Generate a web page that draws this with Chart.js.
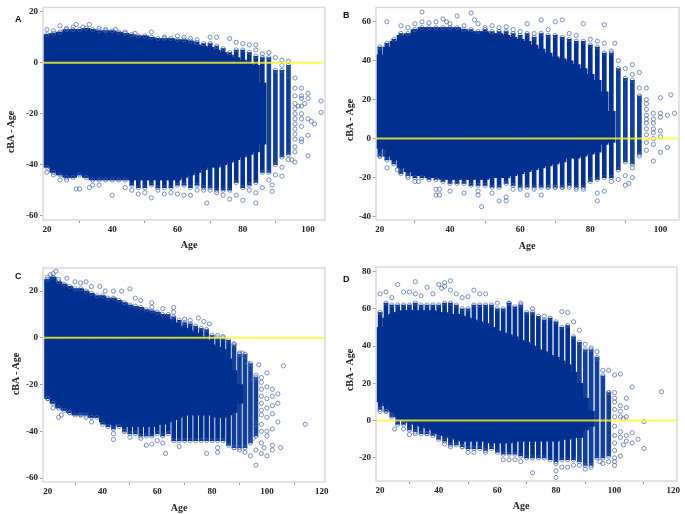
<!DOCTYPE html>
<html>
<head>
<meta charset="utf-8">
<script src="https://cdn.jsdelivr.net/npm/chart.js@4"></script>
<style>
    html, body { margin: 0; padding: 0; background: #fff; width: 685px; height: 514px; overflow: hidden; }
    canvas { position: absolute; filter: blur(0.4px); }
    .tag { position: absolute; font: bold 9px "Liberation Sans", sans-serif; color: #111; }
    .axis { position: absolute; font: bold 10px "Liberation Serif", serif; color: #222; white-space: nowrap; transform: translate(-50%, -50%); }
    .axis.rot { transform: translate(-50%, -50%) rotate(-90deg); }
</style>
</head>
<body>
<canvas id="chart-a" style="left:0;top:0"></canvas>
<canvas id="chart-b" style="left:340px;top:0"></canvas>
<canvas id="chart-c" style="left:0;top:255px"></canvas>
<canvas id="chart-d" style="left:340px;top:255px"></canvas>
<div class="tag" style="left:15px;top:14px">A</div>
<div class="tag" style="left:343px;top:10px">B</div>
<div class="tag" style="left:15px;top:271px">C</div>
<div class="tag" style="left:343px;top:274px">D</div>
<div class="axis rot" style="left:10px;top:132px">cBA - Age</div>
<div class="axis rot" style="left:349px;top:120px">cBA - Age</div>
<div class="axis rot" style="left:15px;top:374px">cBA - Age</div>
<div class="axis rot" style="left:349px;top:370px">cBA - Age</div>
<div class="axis" style="left:189px;top:244px">Age</div>
<div class="axis" style="left:527px;top:245px">Age</div>
<div class="axis" style="left:179px;top:507px">Age</div>
<div class="axis" style="left:521px;top:505px">Age</div>
<script>
// Alter, gerade Jahre - die Spalten im Bild
const AGES = [20,22,24,26,28,30,32,34,36,38,40,42,44,46,48,50,52,54,56,58,60,62,64,66,68,70,72,74,76,78,80,82,84,86,88,90,92,94,96,98,100,102];

// A - dichter Block (core) und Spaltenspitzen (edge)
const coreTopA = [11,11.5,12,13,13,13,13.5,13,12.5,12.5,12.5,12,11.5,11,10.5,10.5,10,9.5,9.5,9.5,9,9,8.5,7,6.5,6,5,4,3,2,1,0,-1,-8];
const coreLowA = [-41,-43,-44,-45,-45,-44,-45,-46,-46,-46,-46,-46,-46,-46,-46,-46,-46,-46,-46,-46,-46,-45,-44,-43,-42,-41,-41,-40,-39,-38,-37,-36,-35,-32];
const edgeTopA = [11,11.5,12,13,13,13,13.5,13,12.5,12.5,12.5,12,11.5,11,10.5,10.5,10,9.5,9.5,9.5,9,9,8.5,8,7.5,7.5,6.5,5.5,4,5,5,4,2.5,2,2,-3,-3,-1];
const edgeLowA = [-41,-43,-44,-45,-45,-44,-45,-46,-46,-46,-46,-46,-46,-48,-49,-49,-48,-49,-49,-49,-48,-48,-49,-48,-49,-49,-50,-50,-50,-47,-49,-48,-47,-43,-43,-40,-37,-36];
const ringsA = [[24,14.5],[29,15],[33,15],[26,13.5],[20,13],[22,12.5],[28,14],[31,14],[36,13.5],[38,13],[41,13],[44,12],[47,11.5],[52,12],[56,10],[60,10.5],[62,10],[64,9.5],[66,9],[70,10],[72,10],[76,9.5],[78,8],[80,7.5],[82,7],[84,7],[84,5],[86,3.5],[88,4],[90,2],[92,1],[94,0.5],[92,-1],[94,-2],[94,-5],[96,-6],[96,-10],[96,-13],[98,-10],[100,-12],[100,-14],[98,-13],[99,-16],[97,-17],[102,-24],[104,-15],[104,-19.5],[100,-22],[98,-20],[101,-23],[100,-28.5],[98,-30],[98,-31],[100,-36.5],[96,-39],[96,-35],[94,-38],[95,-38],[92,-41],[92,-44.5],[90,-44],[89,-48],[89,-50.5],[88,-46],[84,-55],[84,-51],[80,-54],[76,-53.5],[78,-52],[74,-52],[72,-51],[69,-55],[64,-52],[62,-52],[60,-51.5],[56,-51.5],[52,-53],[48,-51.5],[40,-52],[29,-49.5],[30,-49.5],[33,-49],[36,-48],[34,-48],[26,-46],[24,-46],[22,-44],[20,-43],[44,-49],[46,-50],[50,-51],[54,-50],[58,-51],[66,-50],[68,-50],[70,-50],[86,-49],[82,-50],[96,-16],[96,-18],[96,-20],[96,-22],[96,-24],[96,-26],[96,-28],[96,-30],[96,-33],[98,-14],[98,-17],[98,-22],[98,-25]];

// B
const coreTopB = [43,47,50,53,54,56,57,57,57,57,57,57,56,55,55,55,54,54,53,52,51,50,48,46,44,42,41,40,38,36,33,30,24,14];
const coreLowB = [-5,-9,-11,-15,-17,-19,-19,-20,-20,-21,-21,-21,-21,-21,-21,-21,-20,-20,-20,-19,-18,-17,-16,-15,-14,-13,-12,-10,-10,-9,-8,-7,-3,-2];
const edgeTopB = [47,49,51,54,54,56,57,57,57,57,57,57,56,56,55,56,55,55,55,54,53,54,52,54,53,53,52,51,50,50,48,47,44,44,36,31,30,22];
const edgeLowB = [-9,-11,-13,-18,-19,-20,-20,-21,-21,-22,-23,-23,-23,-24,-24,-24,-25,-25,-23,-24,-25,-25,-25,-25,-25,-25,-25,-24,-25,-25,-22,-21,-20,-20,-16,-12,-13,-8];
const ringsB = [[22,60],[26,58],[28,57],[30,59],[32,60],[32,65],[34,59.5],[36,60],[38,61.5],[39,60],[40,59],[42,63],[44,58],[46,64.5],[47,61],[48,59],[50,57],[52,58],[54,57],[56,57.5],[58,56],[60,55],[62,59],[64,54],[66,61],[68,56],[70,60],[72,61],[74,54],[76,53],[78,59],[80,51],[82,50],[84,58.5],[84,49],[86,45],[87,49],[88,40],[90,36],[92,38],[92,33],[94,26],[94,34],[96,26],[96,20],[96,18],[96,15],[96,12],[96,10],[96,8],[96,5],[96,2],[96,-2],[98,13],[98,10],[98,8],[98,5],[98,3],[98,0],[98,-3],[100,21],[100,13],[100,11],[100,4],[100,1],[102,12],[103,22.5],[104,13],[100,-7],[102,-4.5],[98,-11.5],[96,-6],[94,-9],[92,-20],[92,-15],[90,-24],[91,-23],[90,-19],[88,-21],[86,-22],[84,-27],[82,-28],[82,-32],[80,-21],[78,-26],[76,-26],[72,-25],[70,-25],[66,-29],[62,-29],[60,-26],[56,-30],[56,-32],[54,-32],[52,-28],[49,-35],[48,-29],[48,-27],[44,-28],[40,-27],[37,-29],[36,-29],[36,-26],[37,-26],[30,-22],[31,-22],[28,-20],[26,-17],[25,-16],[22,-15],[20,-9],[21,-7],[58,-26],[64,-26],[68,-25],[74,-25]];

// C
const coreTopC = [25,26,24,23,22,21,21,20,19,18,18,17,17,16,15,14,13.5,13,12,11.5,11,10,8,6.5,5,4,3,2,0.5,-1,-3,-4,-5,-9,-14,-20];
const coreLowC = [-26,-28,-30,-31,-32,-33,-33,-33,-34,-34,-36,-37,-37,-37,-38,-38,-38,-38,-38,-38,-37,-37,-36,-35,-34,-33,-33,-33,-33,-33,-33,-34,-34,-33,-32,-28];
const edgeTopC = [25,26,24,23,22,21,21,20,19,18,18,17,17,16,15,14,13.5,13,12,11.5,11,10,10,9,7.5,6.5,6,5,4,3.5,1,0,0,-1,-3,-7,-7,-11,-17];
const edgeLowC = [-26,-28,-30,-31,-32,-33,-33,-33,-34,-34,-37,-38,-39,-38,-40,-41,-41,-42,-42,-42,-41,-42,-41,-44,-44,-44,-44,-44,-44,-44,-44,-44,-44,-46,-47,-47,-47,-45,-42];
const ringsC = [[20,26],[21,27],[22,27.5],[23,28.5],[24,25],[27,25.5],[30,24],[32,23.5],[34,24],[36,22],[39,22],[41,20],[44,20],[47,20],[50,21],[52,17],[54,16],[58,15],[58,13],[62,12.5],[66,13],[66,11],[70,8],[72,7.5],[75,8.5],[77,7],[79,6],[82,1],[84,0.5],[88,-2.5],[90,-6.5],[91,-6.5],[92,-8],[93,-11],[94,-13],[96,-16],[95,-18],[97,-11.5],[98,-17],[98,-19],[98,-22],[98,-25],[98,-28],[98,-31],[100,-15],[100,-21],[102,-22],[102,-25],[104,-24],[106,-12],[104,-28],[102,-29],[100,-26],[100,-30],[102,-32.5],[98,-33],[100,-34],[104,-36],[102,-39],[100,-42],[98,-37],[98,-40],[96,-37],[98,-45],[100,-40],[99,-47],[102,-46],[102,-48],[105,-47],[98,-49.5],[100,-50.5],[96,-48],[94,-50.5],[96,-54.5],[95,-43],[92,-49],[90,-48],[88,-47],[82,-47],[82,-49],[78,-49.5],[68,-46.5],[63,-49.5],[62,-45],[60,-44],[58,-45.5],[56,-46],[54,-43],[50,-42.5],[48,-40],[44,-43.5],[44,-41],[36,-36],[34,-34],[32,-33],[28,-32],[24,-34],[25,-33],[22,-30],[20,-26],[114,-37]];

// D
const coreTopD = [50,55,57,58,59,59,59,59,59,59,58,58,57,57,56,55,54,53,52,50,48,47,46,45,43,42,40,38,37,35,34,32,30,26,20,12,5];
const coreLowD = [10,8,5,2,0,-1,-2,-3,-4,-5,-7,-8,-9,-10,-11,-11,-11,-11,-11,-12,-12,-12,-12,-11,-11,-11,-11,-11,-11,-11,-11,-10,-10,-9,-9,-5,-3];
const edgeTopD = [58,63,62,62,62,62,63,62,62,62,62,63,63,62,60,60,62,62,62,62,60,60,63,61,62,58,58,56,54,55,53,50,51,45,42,38,38,34,24,15];
const edgeLowD = [6,5,2,-2,-2,-5,-6,-7,-7,-8,-10,-11,-13,-13,-14,-15,-15,-15,-16,-15,-17,-18,-18,-18,-19,-20,-20,-20,-20,-21,-22,-21,-21,-21,-22,-24,-24,-20,-20,-19];
const ringsD = [[20,68],[22,69],[24,66],[26,73],[28,69],[30,69],[32,74.5],[32,68],[34,67],[36,71.5],[38,68],[40,73],[41,71],[42,74],[42,72],[44,75],[44,70],[46,68],[48,66],[50,66.5],[52,70],[54,68],[56,68],[60,63],[64,63],[68,63],[72,60],[76,56],[82,58.5],[84,58],[86,53],[88,48.5],[90,41],[92,39],[94,37],[94,33],[96,27],[98,27],[100,24.5],[102,25],[106,18],[116,15.5],[104,12],[104,7],[102,8],[104,2],[103,1],[100,15],[100,12],[98,15],[100,10],[100,6],[100,2],[100,-3],[100,-8],[100,-12],[100,-16],[102,2],[102,5],[102,-6],[102,-9],[104,-8],[104,-11],[106,-6.5],[106,-12],[108,-10],[110,-0.5],[110,-15],[103,-13],[102,-19],[100,-20],[100,-22],[100,-24],[98,-22],[96,-23],[95,-22],[92,-25],[90,-26],[88,-24],[86,-24],[84,-25],[82,-25],[80,-27],[80,-30.5],[80,-23],[72,-28],[68,-22],[66,-21],[64,-21],[62,-21],[56,-17],[52,-17],[50,-17],[48,-14],[44,-14],[42,-12.5],[40,-9],[36,-7],[32,-7],[30,-7.5],[28,-4.5],[25,-4.5],[24,3],[22,5],[20,5]];

const BLUE = '#00308f';
const BLUE_TAIL = 'rgba(0,48,143,0.93)';
const RING = 'rgba(70,100,175,0.7)';
const YELLOW = 'rgba(255,255,40,0.8)';
const TICK_FONT = { family: '"Liberation Serif", serif', size: 9, weight: 'bold' };

// Rahmen um den Plotbereich
const framePlugin = {
    id: 'frame',
    afterDraw(chart) {
        const a = chart.chartArea;
        const c = chart.ctx;
        c.save();
        c.strokeStyle = '#d9d9d9';
        c.lineWidth = 1.5;
        c.strokeRect(a.left, a.top, a.right - a.left, a.bottom - a.top);
        c.restore();
    }
};

function drawPanel(id, p) {
    const canvas = document.getElementById(id);
    canvas.width = p.w;
    canvas.height = p.h;
    canvas.style.width = p.w + 'px';
    canvas.style.height = p.h + 'px';

    const core = p.coreTop.map((t, i) => ({ x: AGES[i], y: [p.coreLow[i], t] }));
    const edge = p.edgeTop.map((t, i) => ({ x: AGES[i], y: [p.edgeLow[i], t] }));
    const tips = [
        ...p.edgeTop.map((t, i) => ({ x: AGES[i], y: t })),
        ...p.edgeLow.map((l, i) => ({ x: AGES[i], y: l })),
        ...p.rings.map(([x, y]) => ({ x, y }))
    ];

    new Chart(canvas, {
        data: {
            datasets: [
                { type: 'bar', data: core, backgroundColor: BLUE, barThickness: p.barWide, grouped: false, order: 4 },
                { type: 'bar', data: edge, backgroundColor: c => (c.raw && c.raw.x >= 88 ? BLUE_TAIL : BLUE), barThickness: 4, grouped: false, order: 3 },
                { type: 'scatter', data: tips, pointStyle: 'circle', pointRadius: 2.1, borderWidth: 1, borderColor: RING, backgroundColor: 'transparent', order: 2 },
                { type: 'line', data: [{ x: p.xMin, y: 0 }, { x: p.xMax, y: 0 }], borderColor: YELLOW, borderWidth: 2, pointRadius: 0, order: 1 }
            ]
        },
        options: {
            responsive: false,
            animation: false,
            layout: { padding: { top: p.top, right: p.right } },
            plugins: { legend: { display: false }, tooltip: { enabled: false } },
            scales: {
                x: {
                    type: 'linear',
                    offset: false,
                    min: p.xMin,
                    max: p.xMax,
                    grid: { drawOnChartArea: false, tickLength: 3, color: '#999' },
                    border: { display: false },
                    ticks: { stepSize: 20, includeBounds: false, color: '#222', font: TICK_FONT, maxRotation: 0, padding: 1 },
                    afterFit: s => { s.height = p.bottom; }
                },
                y: {
                    min: p.yMin,
                    max: p.yMax,
                    grid: { drawOnChartArea: false, tickLength: 3, color: '#999' },
                    border: { display: false },
                    ticks: { stepSize: 20, includeBounds: false, color: '#222', font: TICK_FONT, padding: 2 },
                    afterFit: s => { s.width = p.left; }
                }
            }
        },
        plugins: [framePlugin]
    });
}

drawPanel('chart-a', { w: 340, h: 250, left: 43, top: 5, right: 15, bottom: 30, xMin: 18.8, xMax: 105.2, yMin: -61.7, yMax: 21.7, barWide: 7.4,
    coreTop: coreTopA, coreLow: coreLowA, edgeTop: edgeTopA, edgeLow: edgeLowA, rings: ringsA });
drawPanel('chart-b', { w: 345, h: 250, left: 36, top: 5, right: 6, bottom: 30, xMin: 18.9, xMax: 105.3, yMin: -41.8, yMax: 67.4, barWide: 7.8,
    coreTop: coreTopB, coreLow: coreLowB, edgeTop: edgeTopB, edgeLow: edgeLowB, rings: ringsB });
drawPanel('chart-c', { w: 340, h: 259, left: 43, top: 13, right: 15, bottom: 32, xMin: 18.3, xMax: 121.2, yMin: -61.7, yMax: 29.9, barWide: 6.3,
    coreTop: coreTopC, coreLow: coreLowC, edgeTop: edgeTopC, edgeLow: edgeLowC, rings: ringsC });
drawPanel('chart-d', { w: 345, h: 259, left: 36, top: 12, right: 8, bottom: 33, xMin: 18.6, xMax: 121.3, yMin: -32.4, yMax: 82.4, barWide: 6.7,
    coreTop: coreTopD, coreLow: coreLowD, edgeTop: edgeTopD, edgeLow: edgeLowD, rings: ringsD });
</script>
</body>
</html>
